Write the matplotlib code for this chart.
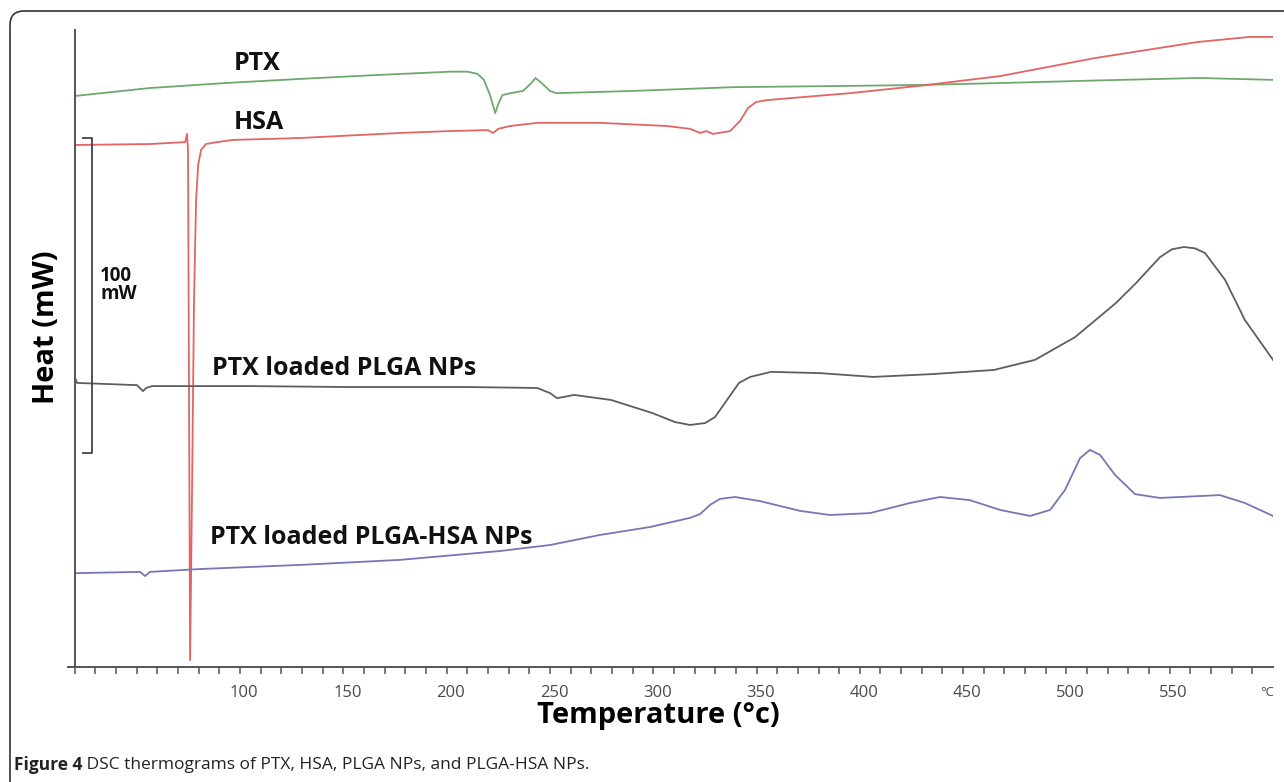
import numpy as np
import matplotlib
matplotlib.use("Agg")
import matplotlib.pyplot as plt
import matplotlib.transforms as mtransforms
from matplotlib.patches import FancyBboxPatch

plt.rcParams['font.family'] = ['Open Sans', 'DejaVu Sans']

# --- DSC traces (temperature in degC, heat flow in mW, offset) ---
ptx_temp = [20, 56, 93, 129, 165, 202, 210, 215, 218, 221, 223.5, 225, 227, 231, 237,
            241, 243, 246, 250, 253, 290, 339, 395, 430, 468, 514, 564, 600]
ptx_heat = [180.7, 183.2, 184.8, 186.1, 187.3, 188.4, 188.4, 187.7, 185.8, 181.0, 175.3,
            178.2, 181.0, 181.6, 182.3, 184.8, 186.4, 184.8, 182.3, 181.6, 182.3, 183.5,
            183.9, 184.2, 184.8, 185.6, 186.4, 185.8]

hsa_temp = [20.1, 56.4, 73.4, 74.3, 74.8, 75.8, 76.8, 77.7, 78.7, 79.7, 81.1, 83.5, 88.9,
            96.6, 129, 177.4, 201.6, 220, 222.5, 224.9, 230.7, 243.8, 274.3, 306.7, 317.8,
            322.7, 325.6, 328.9, 337.2, 342, 345.9, 349.8, 355.1, 395.3, 430.1, 467.9,
            513.8, 563.7, 588.9, 600]
hsa_heat = [165.2, 165.5, 166.1, 168.7, 163.6, 2.2, 59.2, 116.1, 147.8, 158.9, 163.6, 165.5,
            166.1, 166.8, 167.4, 169.0, 169.6, 169.9, 169.0, 170.3, 171.2, 172.2, 172.2,
            171.2, 170.3, 169.0, 169.6, 168.7, 169.6, 172.8, 176.9, 178.8, 179.4, 181.6,
            184.0, 187.0, 192.7, 197.8, 199.4, 199.4]

plga_temp = [20.1, 21.1, 50.1, 53.0, 54.5, 57.4, 104.8, 151.3, 210.4, 243.8, 250, 253.4,
             256.3, 261.7, 279.6, 299.4, 310.6, 317.8, 325.1, 329.9, 335.7, 341.5, 346.9,
             357, 380.7, 406.4, 435.4, 464.9, 484.8, 504.2, 524, 533.7, 545.3, 551.1,
             556.9, 562.2, 567.1, 576.8, 586.4, 600]
plga_heat = [91.5, 89.9, 89.2, 87.3, 88.3, 88.9, 88.9, 88.6, 88.6, 88.3, 86.7, 85.1, 85.4,
             86.1, 84.5, 80.4, 77.5, 76.6, 77.2, 79.1, 84.5, 89.9, 91.8, 93.4, 93.0, 91.8,
             92.7, 94.0, 97.2, 104.4, 115.2, 121.5, 129.7, 132.2, 132.9, 132.5, 131.0,
             122.5, 109.8, 97.2]

plga_hsa_temp = [20.1, 51.6, 54.0, 56.4, 80.6, 129, 177.4, 225.8, 250, 274.3, 298.5, 317.8,
                 322.7, 327.5, 332.3, 339.6, 351.7, 371.1, 385.6, 404.9, 424.3, 438.8,
                 453.3, 467.9, 482.4, 492.1, 499.3, 506.6, 511.4, 516.3, 523.5, 533.2,
                 545.3, 564.7, 574.3, 586.4, 600]
plga_hsa_heat = [29.7, 30.1, 28.8, 30.1, 31.0, 32.3, 33.9, 36.7, 38.6, 41.8, 44.3, 47.2,
                 48.4, 51.3, 53.2, 53.8, 52.5, 49.4, 48.1, 48.7, 51.9, 53.8, 52.8, 49.7,
                 47.8, 49.7, 56.0, 66.1, 68.7, 67.1, 60.8, 54.7, 53.5, 54.1, 54.4, 51.9,
                 47.8]

major_ticks = [100, 150, 200, 250, 300, 350, 400, 450, 500, 550]
minor_ticks = list(range(20, 600, 10))

# scale bar (100 mW)
bar_x = [24.0, 28.4]
bar_y = [67.7, 167.4]

X_LIM = (16.7, 600)
Y_LIM = (0, 201.9)

C_PTX = '#6ea86e'
C_HSA = '#e26464'
C_PLGA = '#5e5e5e'
C_PLGA_HSA = '#7676b6'
C_AXIS = '#555555'


def draw_frame(fig):
    # rounded figure border, cut off at right and bottom like the journal crop
    box = FancyBboxPatch((0.10, -0.5), 13.5, 7.71 + 0.5,
                         boxstyle="round,pad=0,rounding_size=0.14",
                         transform=fig.dpi_scale_trans, fill=False,
                         edgecolor='#333333', linewidth=1.2)
    fig.add_artist(box)


def main():
    fig = plt.figure(figsize=(12.84, 7.82), dpi=100)
    draw_frame(fig)
    ax = fig.add_axes([68 / 1284, 115 / 782, (1273 - 68) / 1284, (667 - 29) / 782])

    ax.plot(ptx_temp, ptx_heat, color=C_PTX, lw=1.3)
    ax.plot(hsa_temp, hsa_heat, color=C_HSA, lw=1.3)
    ax.plot(plga_temp, plga_heat, color=C_PLGA, lw=1.3)
    ax.plot(plga_hsa_temp, plga_hsa_heat, color=C_PLGA_HSA, lw=1.3)

    ax.set_xlim(*X_LIM)
    ax.set_ylim(*Y_LIM)

    for s in ['top', 'right', 'left']:
        ax.spines[s].set_visible(False)
    ax.spines['bottom'].set_color(C_AXIS)
    ax.spines['bottom'].set_linewidth(1.4)
    ax.axvline(20, color=C_AXIS, lw=1.4)

    ax.set_yticks([])
    ax.set_xticks(major_ticks)
    ax.set_xticklabels([str(t) for t in major_ticks])
    ax.set_xticks(minor_ticks, minor=True)
    ax.tick_params(axis='x', which='both', direction='out', length=5, width=1.1,
                   color=C_AXIS)
    ax.tick_params(axis='x', which='major', labelsize=12, labelcolor='#4a4a4a', pad=8)
    # labels sit a little right of their ticks in the original
    shift = mtransforms.ScaledTranslation(4 / 100, 0, fig.dpi_scale_trans)
    for lbl in ax.get_xticklabels():
        lbl.set_transform(lbl.get_transform() + shift)
    ax.text(597, -0.040, '°C', transform=ax.get_xaxis_transform(), ha='center',
            va='center', fontsize=9.5, color='#4a4a4a')

    # scale bar
    ax.plot([bar_x[0], bar_x[1], bar_x[1], bar_x[0]],
            [bar_y[1], bar_y[1], bar_y[0], bar_y[0]], color='#444444', lw=1.3)
    ax.text(32.2, 121, '100\nmW', fontsize=13.5, fontweight='bold', ha='left',
            va='center', linespacing=0.85, color='#111111')

    # curve labels
    lab = dict(fontsize=18, fontweight='bold', color='#111111', va='center')
    ax.text(108.2, 191.1, 'PTX', ha='center', **lab)
    ax.text(109.2, 172.2, 'HSA', ha='center', **lab)
    ax.text(86.4, 94.6, 'PTX loaded PLGA NPs', ha='left', **lab)
    ax.text(85.5, 41.1, 'PTX loaded PLGA-HSA NPs', ha='left', **lab)

    ax.set_xlabel('Temperature (°c)', fontsize=21, fontweight='bold')
    ax.xaxis.set_label_coords(0.49, -0.053)
    ax.set_ylabel('Heat (mW)', fontsize=21, fontweight='bold')
    ax.yaxis.set_label_coords(-0.006, 0.533)

    # caption
    t1 = fig.text(14 / 1284, 1 - 765 / 782, 'Figure 4', fontsize=12.5, fontweight='bold',
                  va='center', color='#222222')
    ax.annotate(' DSC thermograms of PTX, HSA, PLGA NPs, and PLGA-HSA NPs.',
                xy=(1, 0.5), xycoords=t1, va='center', ha='left', fontsize=12.5,
                color='#222222', annotation_clip=False)

    fig.savefig('out.png', dpi=100)
    plt.close(fig)


if __name__ == "__main__":
    main()
